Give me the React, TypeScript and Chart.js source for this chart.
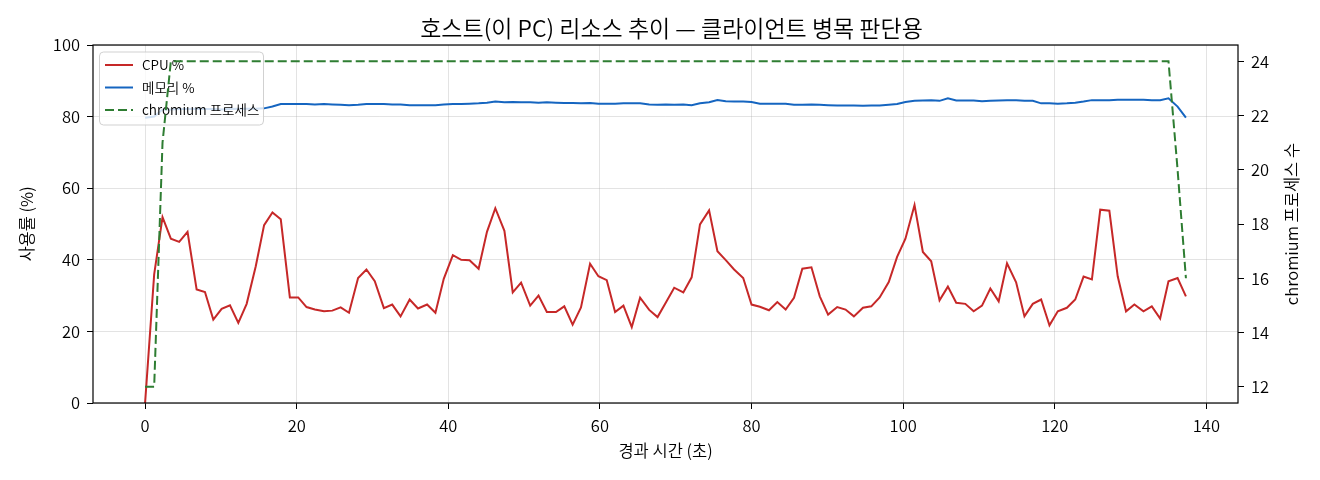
import React, { useEffect, useRef } from 'react';
import { Chart, ChartConfiguration, Plugin, registerables } from 'chart.js';

Chart.register(...registerables);

// elapsed seconds per sample
const elapsedSec = [
  0, 1.2, 2.3, 3.4, 4.5, 5.6, 6.8, 7.9, 9.0, 10.1,
  11.2, 12.3, 13.4, 14.6, 15.7, 16.8, 17.9, 19.1, 20.2, 21.3,
  22.4, 23.6, 24.7, 25.8, 26.9, 28.1, 29.2, 30.3, 31.5, 32.6,
  33.7, 34.9, 36.0, 37.2, 38.3, 39.4, 40.6, 41.7, 42.8, 44.0,
  45.1, 46.2, 47.4, 48.5, 49.6, 50.8, 51.9, 53.0, 54.2, 55.3,
  56.4, 57.5, 58.7, 59.8, 60.9, 62.0, 63.1, 64.2, 65.3, 66.5,
  67.6, 68.7, 69.8, 71.0, 72.1, 73.2, 74.4, 75.5, 76.6, 77.7,
  78.9, 80.0, 81.1, 82.3, 83.4, 84.5, 85.6, 86.7, 87.9, 89.0,
  90.1, 91.3, 92.4, 93.5, 94.7, 95.8, 96.9, 98.1, 99.2, 100.3,
  101.5, 102.6, 103.7, 104.8, 105.9, 107.0, 108.2, 109.3, 110.4, 111.5,
  112.6, 113.7, 114.9, 116.0, 117.1, 118.2, 119.3, 120.4, 121.6, 122.7,
  123.8, 124.9, 126.0, 127.2, 128.3, 129.4, 130.5, 131.7, 132.8, 133.9,
  135.0, 136.2, 137.3,
];

const cpuPct = [
  0, 35.9, 51.9, 45.9, 45.0, 47.8, 31.7, 31.0, 23.3, 26.3,
  27.3, 22.4, 27.7, 38.2, 49.7, 53.2, 51.3, 29.5, 29.5, 26.8,
  26.1, 25.6, 25.8, 26.7, 25.2, 34.9, 37.3, 34.0, 26.5, 27.5,
  24.2, 28.9, 26.4, 27.5, 25.2, 34.7, 41.3, 40.0, 39.9, 37.5,
  47.8, 54.4, 48.1, 30.9, 33.6, 27.2, 30.0, 25.4, 25.4, 27.0,
  21.9, 26.7, 38.9, 35.4, 34.3, 25.4, 27.2, 21.2, 29.4, 26.0,
  24.0, 28.1, 32.2, 30.9, 35.1, 49.9, 53.8, 42.4, 39.9, 37.3,
  34.9, 27.5, 26.9, 25.9, 28.2, 26.1, 29.4, 37.5, 37.9, 29.8,
  24.7, 26.8, 26.1, 24.2, 26.6, 27.0, 29.5, 33.8, 40.8, 45.9,
  55.3, 42.2, 39.6, 28.7, 32.5, 28.0, 27.7, 25.6, 27.2, 32.0,
  28.4, 39.0, 33.7, 24.2, 27.7, 28.9, 21.7, 25.6, 26.6, 28.9,
  35.3, 34.5, 54.0, 53.7, 35.4, 25.6, 27.5, 25.6, 27.0, 23.6,
  34.0, 34.9, 29.8,
];

const memPct = [
  79.7, 80.0, 82.0, 82.0, 82.1, 82.1, 82.2, 82.1, 82.1, 82.0,
  82.1, 82.2, 82.2, 82.2, 82.3, 82.8, 83.5, 83.5, 83.5, 83.5,
  83.4, 83.5, 83.4, 83.3, 83.2, 83.3, 83.5, 83.5, 83.5, 83.4,
  83.4, 83.2, 83.2, 83.2, 83.2, 83.4, 83.5, 83.5, 83.6, 83.7,
  83.9, 84.2, 84.0, 84.1, 84.0, 84.0, 83.9, 84.0, 83.9, 83.8,
  83.8, 83.7, 83.8, 83.6, 83.6, 83.6, 83.7, 83.7, 83.7, 83.4,
  83.3, 83.4, 83.3, 83.4, 83.2, 83.7, 84.0, 84.6, 84.3, 84.2,
  84.2, 84.1, 83.6, 83.6, 83.6, 83.6, 83.3, 83.3, 83.4, 83.3,
  83.2, 83.1, 83.1, 83.1, 83.0, 83.1, 83.1, 83.3, 83.5, 84.1,
  84.4, 84.5, 84.6, 84.4, 85.1, 84.5, 84.5, 84.5, 84.3, 84.4,
  84.5, 84.6, 84.6, 84.4, 84.4, 83.7, 83.7, 83.6, 83.7, 83.9,
  84.2, 84.6, 84.6, 84.6, 84.7, 84.7, 84.7, 84.7, 84.6, 84.6,
  85.1, 82.8, 79.7,
];

const chromiumCount = [
  12, 12, 21, 24, 24, 24, 24, 24, 24, 24,
  24, 24, 24, 24, 24, 24, 24, 24, 24, 24,
  24, 24, 24, 24, 24, 24, 24, 24, 24, 24,
  24, 24, 24, 24, 24, 24, 24, 24, 24, 24,
  24, 24, 24, 24, 24, 24, 24, 24, 24, 24,
  24, 24, 24, 24, 24, 24, 24, 24, 24, 24,
  24, 24, 24, 24, 24, 24, 24, 24, 24, 24,
  24, 24, 24, 24, 24, 24, 24, 24, 24, 24,
  24, 24, 24, 24, 24, 24, 24, 24, 24, 24,
  24, 24, 24, 24, 24, 24, 24, 24, 24, 24,
  24, 24, 24, 24, 24, 24, 24, 24, 24, 24,
  24, 24, 24, 24, 24, 24, 24, 24, 24, 24,
  24, 20, 16,
];

const xTicks = [0, 20, 40, 60, 80, 100, 120, 140];
const yTicks = [0, 20, 40, 60, 80, 100];
const y2Ticks = [12, 14, 16, 18, 20, 22, 24];

const seriesLabels = ['CPU %', '메모리 %', 'chromium 프로세스'];
const seriesColors = ['#c62828', '#1565c0', '#2e7d32'];

const TITLE = '호스트(이 PC) 리소스 추이 — 클라이언트 병목 판단용';
const X_LABEL = '경과 시간 (초)';
const Y_LABEL = '사용률 (%)';
const Y2_LABEL = 'chromium 프로세스 수';

const FONT = '"Noto Sans CJK KR", "Noto Sans", sans-serif';
const WEIGHT = 350;
const TEXT = '#000';
const DASH = [9, 4];

const toPoints = (ys: number[]) => elapsedSec.map((x, i) => ({ x, y: ys[i] }));

// legend box sits between the ax1 lines and the chromium line, like matplotlib
const legendPlugin: Plugin<'line'> = {
  id: 'insideLegend',
  beforeDatasetDraw(chart, args) {
    if (args.index !== 2) return;
    const { ctx } = chart;
    const x = 99.5;
    const y = 52;
    const w = 164;
    const h = 73;
    ctx.save();
    ctx.beginPath();
    ctx.roundRect(x, y, w, h, 4);
    ctx.fillStyle = 'rgba(255,255,255,0.8)';
    ctx.fill();
    ctx.strokeStyle = 'rgba(204,204,204,0.9)';
    ctx.lineWidth = 1;
    ctx.stroke();
    const rows = [65, 87.5, 110];
    seriesLabels.forEach((label, i) => {
      ctx.beginPath();
      ctx.setLineDash(i === 2 ? DASH : []);
      ctx.strokeStyle = seriesColors[i];
      ctx.lineWidth = 2;
      ctx.moveTo(105, rows[i]);
      ctx.lineTo(133, rows[i]);
      ctx.stroke();
      ctx.setLineDash([]);
      ctx.fillStyle = TEXT;
      ctx.font = `${WEIGHT} 13.5px ${FONT}`;
      ctx.textAlign = 'left';
      ctx.textBaseline = 'middle';
      ctx.fillText(label, 142, rows[i]);
    });
    ctx.restore();
  },
};

const framePlugin: Plugin<'line'> = {
  id: 'frameAndTitles',
  afterDatasetsDraw(chart) {
    const { ctx, chartArea } = chart;
    ctx.save();
    ctx.strokeStyle = '#000';
    ctx.lineWidth = 1.2;
    ctx.strokeRect(chartArea.left, chartArea.top, chartArea.right - chartArea.left, chartArea.bottom - chartArea.top);
    ctx.restore();
  },
  afterDraw(chart) {
    const { ctx, chartArea } = chart;
    ctx.save();
    ctx.fillStyle = TEXT;
    ctx.textAlign = 'center';
    ctx.textBaseline = 'middle';
    ctx.font = `${WEIGHT} 23px ${FONT}`;
    ctx.fillText(TITLE, (chartArea.left + chartArea.right) / 2 + 6, 28);
    ctx.translate(1291.5, (chartArea.top + chartArea.bottom) / 2);
    ctx.rotate(-Math.PI / 2);
    ctx.font = `${WEIGHT} 16.5px ${FONT}`;
    ctx.fillText(Y2_LABEL, 0, 0);
    ctx.restore();
  },
};

const gridColor = 'rgba(176,176,176,0.35)';

const App: React.FC = () => {
  const canvasRef = useRef<HTMLCanvasElement | null>(null);
  const chartRef = useRef<Chart | null>(null);

  useEffect(() => {
    if (!canvasRef.current) return;
    const ctx = canvasRef.current.getContext('2d');
    if (!ctx) return;
    if (chartRef.current) chartRef.current.destroy();

    const tickFont = { family: FONT, size: 16.5, weight: WEIGHT };
    const labelFont = { family: FONT, size: 16.5, weight: WEIGHT };

    const config: ChartConfiguration<'line'> = {
      type: 'line',
      data: {
        datasets: [
          {
            label: seriesLabels[0],
            data: toPoints(cpuPct),
            borderColor: seriesColors[0],
            borderWidth: 2,
            pointRadius: 0,
            tension: 0,
            yAxisID: 'y',
            order: 2,
          },
          {
            label: seriesLabels[1],
            data: toPoints(memPct),
            borderColor: seriesColors[1],
            borderWidth: 2,
            pointRadius: 0,
            tension: 0,
            yAxisID: 'y',
            order: 1,
          },
          {
            label: seriesLabels[2],
            data: toPoints(chromiumCount),
            borderColor: seriesColors[2],
            borderWidth: 2,
            borderDash: DASH,
            pointRadius: 0,
            tension: 0,
            yAxisID: 'y2',
            order: 0,
          },
        ],
      },
      options: {
        animation: false,
        responsive: true,
        maintainAspectRatio: false,
        layout: { padding: { top: 45, left: 0, right: 0, bottom: 0 } },
        plugins: {
          legend: { display: false },
          tooltip: { enabled: false },
          title: { display: false },
        },
        scales: {
          x: {
            type: 'linear',
            min: -6.87,
            max: 144.17,
            afterBuildTicks: (s) => {
              s.ticks = xTicks.map((value) => ({ value }));
            },
            afterFit: (s) => {
              s.height = 77;
            },
            grid: { color: gridColor, tickColor: '#000', tickLength: 6 },
            border: { display: false },
            ticks: { font: tickFont, color: TEXT, padding: 7, maxRotation: 0 },
            title: {
              display: true,
              text: X_LABEL,
              font: labelFont,
              color: TEXT,
              padding: { top: 0, bottom: 19 },
            },
          },
          y: {
            position: 'left',
            min: 0,
            max: 100,
            afterBuildTicks: (s) => {
              s.ticks = yTicks.map((value) => ({ value }));
            },
            afterFit: (s) => {
              s.width = 93;
            },
            grid: { color: gridColor, tickColor: '#000', tickLength: 6 },
            border: { display: false },
            ticks: { font: tickFont, color: TEXT, padding: 7 },
            title: {
              display: true,
              text: Y_LABEL,
              font: labelFont,
              color: TEXT,
              padding: { top: 17, bottom: 0 },
            },
          },
          y2: {
            position: 'right',
            min: 11.4,
            max: 24.6,
            afterBuildTicks: (s) => {
              s.ticks = y2Ticks.map((value) => ({ value }));
            },
            afterFit: (s) => {
              s.width = 82;
            },
            grid: { drawOnChartArea: false, tickColor: '#000', tickLength: 6 },
            border: { display: false },
            ticks: { font: tickFont, color: TEXT, padding: 7 },
          },
        },
      },
      plugins: [legendPlugin, framePlugin],
    };

    chartRef.current = new Chart(ctx, config);

    return () => {
      if (chartRef.current) {
        chartRef.current.destroy();
        chartRef.current = null;
      }
    };
  }, []);

  return (
    <div
      style={{
        position: 'fixed',
        left: 0,
        top: 0,
        width: 1320,
        height: 480,
        background: '#fff',
      }}
    >
      <canvas ref={canvasRef} />
    </div>
  );
};

export default App;
